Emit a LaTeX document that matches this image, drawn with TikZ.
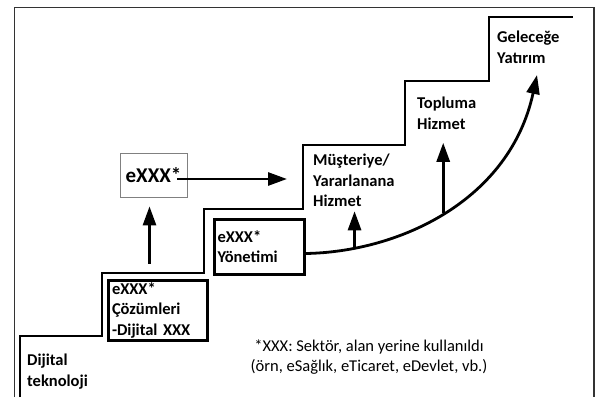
\documentclass[tikz,border=0pt]{standalone}
\usepackage{fontspec}
\setmainfont{Carlito}
\usetikzlibrary{arrows.meta, positioning}

\begin{document}
\begin{tikzpicture}[x=1pt, y=-1pt, >={Triangle[width=13pt,length=19pt]},
    lbl/.style={anchor=north west, inner sep=0pt, align=left, font=\bfseries\fontsize{16.5}{20.5}\selectfont},
    stepbox/.style={draw, line width=3pt, anchor=north west, inner ysep=0pt, align=left, font=\bfseries\fontsize{16.5}{20.5}\selectfont},
    arr/.style={->, line width=2.8pt}]
    \useasboundingbox (0,0) rectangle (598,397);
    % frame and stairs
    \draw[line width=1.5pt, black!80] (14.5,397) -- (14.5,7.5) -- (594,7.5) -- (594,397);
    \draw[line width=1.8pt] (20,397) |- (102,336) |- (204,273) |- (303,209) |- (405,145) |- (489,81) |- (573,17);

    \node[lbl] (dijital) at (27,354) {Dijital\\teknoloji};
    \node[stepbox, inner xsep=4pt, text width=91pt, minimum height=60pt] (cozum) at (106.5,278.5) {eXXX*\\Çözümleri\\-Dijital XXX};
    \node[stepbox, inner xsep=3.5pt, text width=83pt, minimum height=55pt] (yonetim) at (212.5,217.5) {eXXX*\\Yönetimi};
    \node[draw, black!50, line width=0.8pt, text=black, minimum width=67pt, minimum height=44pt, font=\bfseries\fontsize{21}{24}\selectfont] (ek) at (153.5,175) {eXXX*};
    \node[lbl] (musteri) at (313,154) {Müşteriye/\\Yararlanana\\Hizmet};
    \node[lbl] (topluma) at (417,97) {Topluma\\Hizmet};
    \node[lbl] (gelecek) at (497,31) {Geleceğe\\Yatırım};
    \node[align=center, inner sep=0pt, font=\fontsize{16.5}{20}\selectfont] (dipnot) at (369,357) {*XXX: Sektör, alan yerine kullanıldı\\(örn, eSağlık, eTicaret, eDevlet, vb.)};
    \coordinate (ucu) at (537,75);

    \draw[arr, shorten <=15pt, shorten >=9pt] ([xshift=-8pt]cozum.north) -- ([xshift=-8pt]cozum.north |- ek.south);
    \draw[arr, shorten >=26pt] ([xshift=-10pt, yshift=-4pt]ek.east) -- ([yshift=-4pt]ek.east -| musteri.west);
    \draw[arr] ([yshift=-7pt]yonetim.east) .. controls (400,252) and (510,200) .. (ucu)
        coordinate[pos=0.17] (c1) coordinate[pos=0.487] (c2);
    \draw[arr] (c1) -- ++(0,-37);
    \draw[arr] (c2) -- ++(0,-70);
\end{tikzpicture}
\end{document}
